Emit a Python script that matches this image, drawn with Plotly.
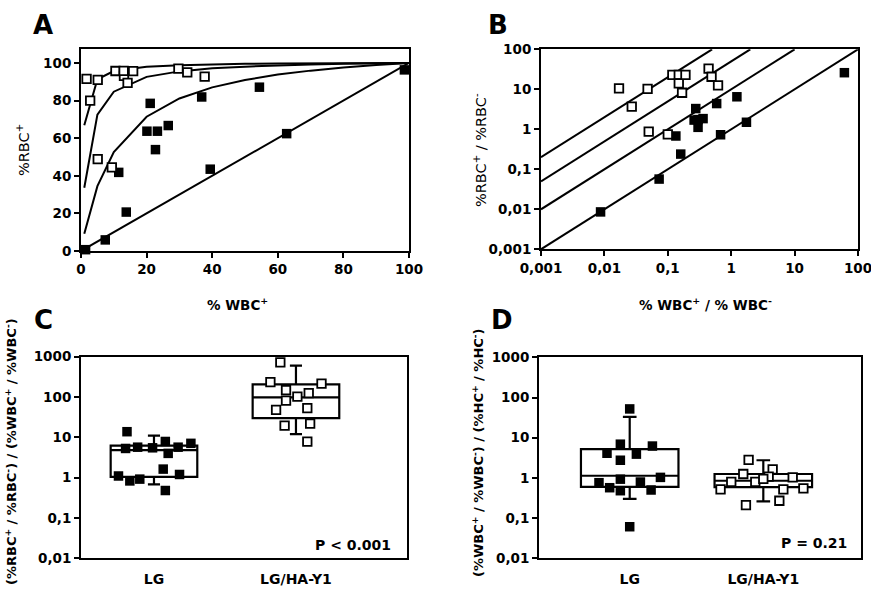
import plotly.graph_objects as go

# ---------------- Panel A data ----------------
a_open_x = [1.7, 5.1, 2.8, 5.1, 9.4, 10.5, 13.1, 14.2, 15.9, 29.7, 32.4, 37.7, 13.0]
a_open_y = [91.5, 91.0, 80.0, 48.9, 44.5, 95.7, 93.1, 89.4, 95.6, 97.0, 95.0, 92.7, 95.8]
a_fill_x = [1.4, 7.4, 13.8, 11.5, 20.1, 21.1, 23.3, 22.7, 26.6, 36.8, 39.4, 54.4, 62.7, 98.6]
a_fill_y = [0.7, 5.9, 20.7, 41.8, 63.7, 78.5, 63.7, 53.9, 66.7, 81.9, 43.5, 87.1, 62.4, 96.3]
a_curve_x = [1, 5, 10, 20, 30, 40, 50, 60, 70, 80, 90, 100]
a_curve_k10 = [9.2, 34.5, 52.6, 71.4, 81.1, 87.0, 90.9, 93.8, 95.9, 97.6, 98.9, 100]
a_curve_k50 = [33.6, 72.5, 84.7, 92.6, 95.5, 97.1, 98.0, 98.7, 99.2, 99.5, 99.8, 100]
a_curve_k200 = [66.9, 91.3, 95.7, 98.0, 98.8, 99.3, 99.5, 99.7, 99.8, 99.9, 99.9, 100]
a_diag_x = [0, 100]
a_diag_y = [0, 100]
a_ticks = [0, 20, 40, 60, 80, 100]

# ---------------- Panel B data ----------------
b_open_x = [0.017, 0.027, 0.048, 0.050, 0.10, 0.118, 0.149, 0.149, 0.19, 0.168, 0.44, 0.49, 0.62]
b_open_y = [10.6, 3.7, 10.2, 0.87, 0.75, 23, 23, 14, 23, 8.2, 33, 20.6, 12.6]
b_fill_x = [0.0087, 0.073, 0.134, 0.16, 0.276, 0.26, 0.36, 0.30, 0.30, 0.59, 1.23, 0.68, 1.74, 61]
b_fill_y = [0.0086, 0.057, 0.68, 0.24, 3.3, 1.7, 1.85, 1.12, 1.75, 4.4, 6.5, 0.73, 1.5, 26]
b_lines_x = [[0.001, 100], [0.001, 10], [0.001, 2], [0.001, 0.5]]
b_lines_y = [[0.001, 100], [0.01, 100], [0.05, 100], [0.2, 100]]
b_tickvals = [0.001, 0.01, 0.1, 1, 10, 100]
b_ticktext = ["0,001", "0,01", "0,1", "1", "10", "100"]

# ---------------- Panel C data ----------------
groups = ["LG", "LG/HA-Y1"]
group_pos = [1, 2]
c_lg_x = [0.81, 0.80, 0.885, 0.99, 1.08, 1.10, 1.17, 1.26, 0.75, 0.83, 0.90, 1.065, 1.18, 1.08]
c_lg_y = [13.8, 5.3, 5.7, 5.5, 7.9, 4.0, 5.7, 7.1, 1.1, 0.83, 0.92, 1.63, 1.2, 0.48]
c_ha_x = [1.89, 1.82, 2.18, 1.93, 2.09, 2.01, 1.93, 1.86, 2.08, 1.92, 2.10, 2.08]
c_ha_y = [725, 235, 215, 149, 125, 102, 81, 48, 53, 19.5, 22, 7.8]
# box stats: lowerfence, q1, median, q3, upperfence
c_lg_box = [0.68, 1.05, 4.8, 6.2, 11]
c_ha_box = [12, 30, 98, 207, 600]

# ---------------- Panel D data ----------------
d_lg_x = [1.0, 0.83, 0.93, 0.93, 1.05, 1.17, 1.23, 0.77, 0.85, 0.93, 0.93, 1.08, 1.16, 1.0]
d_lg_y = [52, 4.1, 6.9, 2.75, 3.9, 6.2, 1.03, 0.76, 0.57, 0.93, 0.48, 0.79, 0.5, 0.061]
d_ha_x = [1.89, 2.07, 1.85, 2.04, 2.22, 1.68, 1.76, 1.94, 2.15, 2.30, 1.87, 2.12, 2.0]
d_ha_y = [2.8, 1.63, 1.25, 1.07, 1.03, 0.52, 0.8, 0.8, 0.52, 0.55, 0.21, 0.27, 0.95]
d_lg_box = [0.30, 0.6, 1.13, 5.2, 33]
d_ha_box = [0.26, 0.59, 0.85, 1.25, 2.75]

cd_tickvals = [0.01, 0.1, 1, 10, 100, 1000]
cd_ticktext = ["0,01", "0,1", "1", "10", "100", "1000"]

W, H = 871, 596
FONT = "DejaVu Sans"


def px_x(v):
    return v / W


def px_y(v):
    return 1 - v / H


fig = go.Figure()

filled = dict(symbol="square", size=9.5, color="black", line=dict(color="black", width=0))
opened = dict(symbol="square", size=8.5, color="white", line=dict(color="black", width=1.8))
line_style = dict(color="black", width=2)

# ---- A ----
for ys in [a_curve_k10, a_curve_k50, a_curve_k200]:
    fig.add_trace(go.Scatter(x=a_curve_x, y=ys, mode="lines", line=line_style,
                             xaxis="x", yaxis="y", hoverinfo="skip"))
fig.add_trace(go.Scatter(x=a_diag_x, y=a_diag_y, mode="lines", line=line_style,
                         xaxis="x", yaxis="y"))
fig.add_trace(go.Scatter(x=a_fill_x, y=a_fill_y, mode="markers", marker=filled,
                         xaxis="x", yaxis="y", cliponaxis=False))
fig.add_trace(go.Scatter(x=a_open_x, y=a_open_y, mode="markers", marker=opened,
                         xaxis="x", yaxis="y", cliponaxis=False))

# ---- B ----
for lx, ly in zip(b_lines_x, b_lines_y):
    fig.add_trace(go.Scatter(x=lx, y=ly, mode="lines", line=line_style,
                             xaxis="x2", yaxis="y2"))
fig.add_trace(go.Scatter(x=b_fill_x, y=b_fill_y, mode="markers", marker=filled,
                         xaxis="x2", yaxis="y2", cliponaxis=False))
fig.add_trace(go.Scatter(x=b_open_x, y=b_open_y, mode="markers", marker=opened,
                         xaxis="x2", yaxis="y2", cliponaxis=False))


def add_box(stats, pos, width, xa, ya):
    lf, q1, med, q3, uf = stats
    fig.add_trace(go.Box(x=[pos], q1=[q1], median=[med], q3=[q3],
                         lowerfence=[lf], upperfence=[uf], width=width,
                         whiskerwidth=0.14, fillcolor="white",
                         line=dict(color="black", width=2.2), boxpoints=False,
                         xaxis=xa, yaxis=ya))


# ---- C ----
add_box(c_lg_box, group_pos[0], 0.61, "x3", "y3")
add_box(c_ha_box, group_pos[1], 0.61, "x3", "y3")
fig.add_trace(go.Scatter(x=c_lg_x, y=c_lg_y, mode="markers", marker=filled,
                         xaxis="x3", yaxis="y3", cliponaxis=False))
fig.add_trace(go.Scatter(x=c_ha_x, y=c_ha_y, mode="markers", marker=opened,
                         xaxis="x3", yaxis="y3", cliponaxis=False))

# ---- D ----
add_box(d_lg_box, group_pos[0], 0.73, "x4", "y4")
add_box(d_ha_box, group_pos[1], 0.73, "x4", "y4")
fig.add_trace(go.Scatter(x=d_lg_x, y=d_lg_y, mode="markers", marker=filled,
                         xaxis="x4", yaxis="y4", cliponaxis=False))
fig.add_trace(go.Scatter(x=d_ha_x, y=d_ha_y, mode="markers", marker=opened,
                         xaxis="x4", yaxis="y4", cliponaxis=False))

tickfont = dict(family=FONT, size=13.5, color="black", weight="bold")
common = dict(showline=True, linewidth=2, linecolor="black", mirror=True,
              showgrid=False, zeroline=False, ticks="outside", ticklen=5,
              tickwidth=2, tickcolor="black", tickfont=tickfont, automargin=False,
              ticklabeloverflow="allow")
cat_font = dict(family=FONT, size=14, color="black", weight="bold")

fig.update_layout(
    template="none",
    width=W, height=H, autosize=False,
    margin=dict(l=0, r=0, t=0, b=0, pad=0),
    paper_bgcolor="white", plot_bgcolor="white",
    showlegend=False,
    xaxis=dict(domain=[px_x(81), px_x(409)], range=[0, 100], tickvals=a_ticks,
               anchor="y", **common),
    yaxis=dict(domain=[px_y(251), px_y(49)], range=[0, 107.4], tickvals=a_ticks,
               anchor="x", **common),
    xaxis2=dict(domain=[px_x(541), px_x(858)], type="log", range=[-3, 2],
                tickvals=b_tickvals, ticktext=b_ticktext, anchor="y2", **common),
    yaxis2=dict(domain=[px_y(249.3), px_y(49.3)], type="log", range=[-3, 2],
                tickvals=b_tickvals, ticktext=b_ticktext, anchor="x2", **common),
    xaxis3=dict(domain=[px_x(81), px_x(406.7)], range=[0.486, 2.78],
                tickvals=group_pos, ticktext=groups, anchor="y3",
                **{**common, "ticklen": 7, "tickcolor": "rgba(0,0,0,0)", "tickfont": cat_font}),
    yaxis3=dict(domain=[px_y(558.3), px_y(356.7)], type="log", range=[-2, 3],
                tickvals=cd_tickvals, ticktext=cd_ticktext, anchor="x3", **common),
    xaxis4=dict(domain=[px_x(539), px_x(860.7)], range=[0.321, 2.729],
                tickvals=group_pos, ticktext=groups, anchor="y4",
                **{**common, "ticklen": 7, "tickcolor": "rgba(0,0,0,0)", "tickfont": cat_font}),
    yaxis4=dict(domain=[px_y(558.3), px_y(357.3)], type="log", range=[-2, 3],
                tickvals=cd_tickvals, ticktext=cd_ticktext, anchor="x4", **common),
)

ann = []


def add_text(text, x, y, size, bold=False, angle=0, xanchor="center"):
    ann.append(dict(text=text, x=px_x(x), y=px_y(y), xref="paper", yref="paper",
                    showarrow=False, textangle=angle, xanchor=xanchor, yanchor="middle",
                    font=dict(family=FONT, size=size, color="black",
                              weight="bold" if bold else "normal")))


# panel letters
add_text("A", 43, 25, 26, bold=True)
add_text("B", 498, 25, 26, bold=True)
add_text("C", 43, 320, 26, bold=True)
add_text("D", 502, 320, 26, bold=True)

# axis titles
add_text("%RBC<sup>+</sup>", 23, 150, 14.5, angle=-90)
add_text("% WBC<sup>+</sup>", 237, 304, 13.5, bold=True)
add_text("%RBC<sup>+</sup> / %RBC<sup>-</sup>", 480, 150, 14.5, angle=-90)
add_text("% WBC<sup>+</sup> / % WBC<sup>-</sup>", 705, 304, 13.5, bold=True)
add_text("(%RBC<sup>+</sup> / %RBC<sup>-</sup>) / (%WBC<sup>+</sup> / %WBC<sup>-</sup>)",
         11, 452, 13, bold=True, angle=-90)
add_text("(%WBC<sup>+</sup> / %WBC<sup>-</sup>) / (%HC<sup>+</sup> / %HC<sup>-</sup>)",
         478, 453, 13, bold=True, angle=-90)

# P values
add_text("P &lt; 0.001", 393, 545, 14, bold=True, xanchor="right")
add_text("P = 0.21", 849, 543, 14, bold=True, xanchor="right")

fig.update_layout(annotations=ann)

fig.write_html("out.html", config={"displayModeBar": False},
               post_script="document.body.style.margin='0';document.body.style.padding='0';")
